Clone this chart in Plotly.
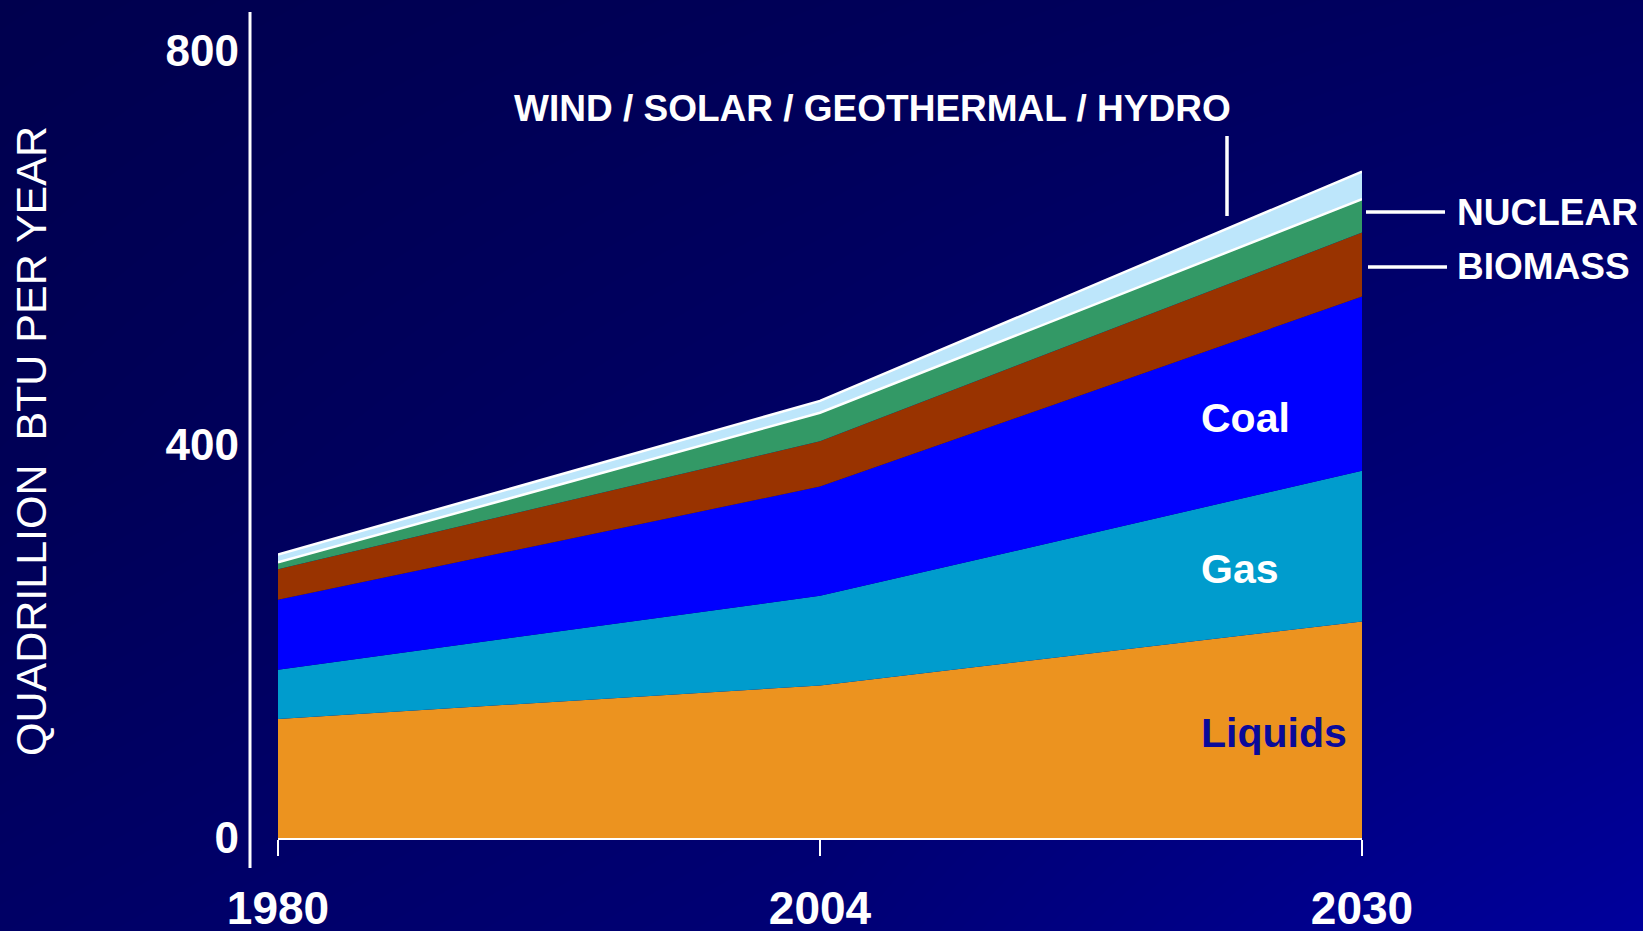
import plotly.graph_objects as go

# world energy use by fuel, quadrillion BTU
years = ["1980", "2004", "2030"]
liquids = [121, 155, 220]
gas = [50, 91, 153]
coal = [71, 111, 177]
biomass = [31, 46, 65]
nuclear = [7, 29, 34]
renewables = [8, 12, 28]

series = [
    ("Liquids", liquids, "#EC931F"),
    ("Gas", gas, "#009CCD"),
    ("Coal", coal, "#0000FF"),
    ("Biomass", biomass, "#993300"),
    ("Nuclear", nuclear, "#339966"),
    ("Wind / Solar / Geothermal / Hydro", renewables, "#BDE6FB"),
]

W, H = 1643, 931
FONT = "Arial, Liberation Sans, sans-serif"


def px(x):
    return x / W


def py(y):
    return 1 - y / H


fig = go.Figure()

# background gradient, drawn on a full-page helper subplot
fig.add_trace(
    go.Heatmap(
        x=[0, 0.5, 1],
        y=[0, 0.5, 1],
        z=[[0.3, 0.5, 1.0], [0.1, 0.3, 0.55], [0.0, 0.12, 0.25]],
        colorscale=[[0, "#00004E"], [1, "#00009C"]],
        zsmooth="best",
        showscale=False,
        hoverinfo="skip",
        xaxis="x",
        yaxis="y",
    )
)

for name, vals, color in series:
    is_white_top = name in ("Nuclear", "Wind / Solar / Geothermal / Hydro")
    fig.add_trace(
        go.Scatter(
            x=years,
            y=vals,
            name=name,
            stackgroup="energy",
            mode="lines",
            fillcolor=color,
            line=dict(color="white" if is_white_top else color, width=2.5 if is_white_top else 0),
            xaxis="x2",
            yaxis="y2",
            showlegend=False,
        )
    )

fig.update_layout(
    width=W,
    height=H,
    margin=dict(l=0, r=0, t=0, b=0, autoexpand=False),
    paper_bgcolor="#000060",
    plot_bgcolor="rgba(0,0,0,0)",
    xaxis=dict(domain=[0, 1], range=[0, 1], visible=False, fixedrange=True, automargin=False),
    yaxis=dict(domain=[0, 1], range=[0, 1], visible=False, fixedrange=True, automargin=False),
    xaxis2=dict(
        domain=[px(278), px(1362)],
        anchor="y2",
        type="category",
        range=[0, 2],
        ticks="outside",
        ticklen=16,
        tickwidth=2,
        tickcolor="white",
        showline=True,
        linecolor="white",
        linewidth=2,
        showgrid=False,
        zeroline=False,
        automargin=False,
        ticklabelstandoff=13,
        tickfont=dict(family=FONT, size=46, color="white", weight="bold"),
    ),
    yaxis2=dict(
        domain=[py(838), py(50.5)],
        anchor="x2",
        range=[0, 800],
        tickvals=[0, 400, 800],
        ticks="",
        showline=False,
        showgrid=False,
        zeroline=False,
        automargin=False,
        ticklabelstandoff=38,
        tickfont=dict(family=FONT, size=44, color="white", weight="bold"),
    ),
)

# detached y axis line and leader lines
lines = [
    (250, 12, 250, 868, 3),
    (1227, 136, 1227, 216, 3.5),
    (1366, 212, 1445, 212, 3.5),
    (1368, 267, 1447, 267, 3.5),
]
for x0, y0, x1, y1, w in lines:
    fig.add_shape(
        type="line", xref="paper", yref="paper",
        x0=px(x0), y0=py(y0), x1=px(x1), y1=py(y1),
        line=dict(color="white", width=w),
    )

labels = [
    ("WIND / SOLAR / GEOTHERMAL / HYDRO", 872, 108, "center", 37, "white"),
    ("NUCLEAR", 1455, 212, "left", 37, "white"),
    ("BIOMASS", 1455, 267, "left", 37, "white"),
    ("Coal", 1199, 418, "left", 41, "white"),
    ("Gas", 1199, 569, "left", 41, "white"),
    ("Liquids", 1199, 733, "left", 41, "#0A0A9A"),
]
for text, x, y, anchor, size, color in labels:
    fig.add_annotation(
        text=text, xref="paper", yref="paper", x=px(x), y=py(y),
        xanchor=anchor, yanchor="middle", showarrow=False,
        font=dict(family=FONT, size=size, color=color, weight="bold"),
    )

fig.add_annotation(
    text="QUADRILLION\u00a0 BTU PER YEAR", xref="paper", yref="paper",
    x=px(31), y=py(441), textangle=-90, showarrow=False,
    xanchor="center", yanchor="middle",
    font=dict(family=FONT, size=43, color="white"),
)

fig.write_html(
    "out.html",
    config=dict(displayModeBar=False),
    post_script="document.body.style.margin='0';document.body.style.overflow='hidden';",
)
